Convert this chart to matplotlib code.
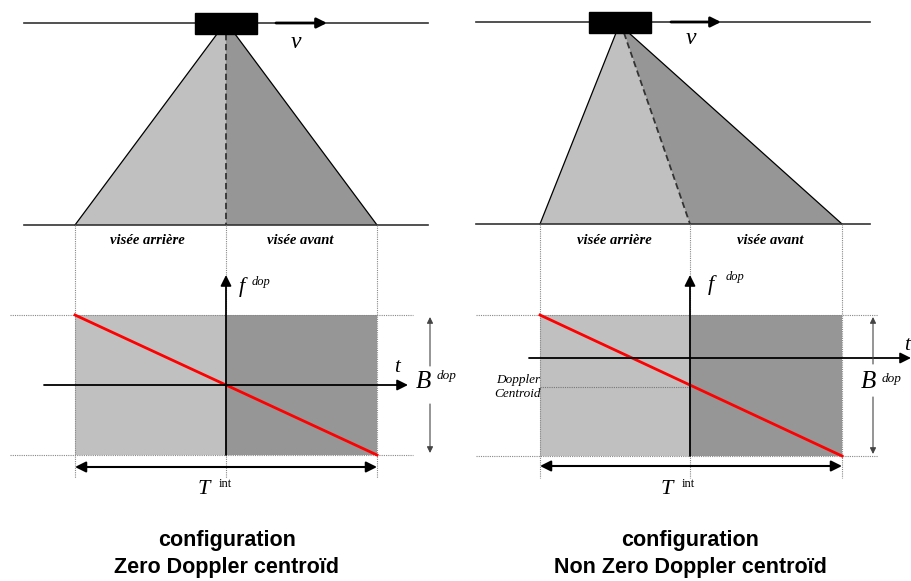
import matplotlib
matplotlib.use("Agg")
import matplotlib.pyplot as plt
from matplotlib.patches import Polygon, Rectangle, FancyArrowPatch

# ---------------- data (pixel geometry of the diagram) ----------------
panel_titles = ["configuration\nZero Doppler centroïd",
                "configuration\nNon Zero Doppler centroïd"]
zone_labels = ["visée arrière", "visée avant"]
doppler_label = "Doppler\nCentroid"

# satellite track (y), ground line (y), x extent
track_y = [23, 22]
ground_y = [225, 224]
line_x = [[24, 428], [476, 870]]
# satellite box [x0, y0, x1, y1]
sat_box = [[195, 13, 257, 34], [589, 12, 651, 33]]
# velocity arrow [x0, x1]
vel_arrow = [[276, 327], [671, 721]]
# beam footprint: apex left/right x, split x on apex, ground left, split, right
beam_apex_l = [217, 616]
beam_apex_r = [235, 629]
beam_apex_split = [226, 624]
beam_ground = [[75, 226, 377], [540, 690, 842]]
# Doppler diagram rect y (top, bottom)
rect_y = [[315, 455], [315, 456]]
# time axis y, x extent
t_axis_y = [385, 358]
t_axis_x = [[44, 408], [529, 911]]
# frequency axis top
f_axis_top = [275, 275]
# Doppler centroid (y where red line crosses f axis)
centroid_y = [385, 387]
# bandwidth arrow x
b_arrow_x = [430, 873]
b_gap = [[366, 404], [364, 397]]
# integration time arrow y
t_int_y = [467, 466]
# dotted horizontal extents
hdot_x = [[10, 413], [476, 878]]

light = "#c0c0c0"
dark = "#969696"
serif = "Liberation Serif"
sans = "Liberation Sans"

fig = plt.figure(figsize=(9.12, 5.81), dpi=100)
ax = fig.add_axes([0, 0, 1, 1])
ax.set_xlim(0, 912)
ax.set_ylim(581, 0)
ax.axis("off")


def arrow(p0, p1, style="-|>", color="black", lw=1.3, ms=16, z=5):
    a = FancyArrowPatch(p0, p1, arrowstyle=style, color=color, lw=lw,
                        mutation_scale=ms, shrinkA=0, shrinkB=0, zorder=z)
    ax.add_patch(a)


for i in range(2):
    xl, xs, xr = beam_ground[i]
    gy = ground_y[i]
    ay = sat_box[i][3]
    # beam polygons
    ax.add_patch(Polygon([(beam_apex_l[i], ay), (beam_apex_split[i], ay), (xs, gy), (xl, gy)],
                         closed=True, facecolor=light, edgecolor="none", zorder=1))
    ax.add_patch(Polygon([(beam_apex_split[i], ay), (beam_apex_r[i], ay), (xr, gy), (xs, gy)],
                         closed=True, facecolor=dark, edgecolor="none", zorder=1))
    ax.plot([beam_apex_l[i], xl], [ay, gy], color="black", lw=0.9, zorder=2)
    ax.plot([beam_apex_r[i], xr], [ay, gy], color="black", lw=0.9, zorder=2)
    ax.plot([beam_apex_split[i], xs], [ay, gy], color="#333333", lw=1.3,
            ls=(0, (3.5, 2)), zorder=2)
    # track and ground lines
    ax.plot(line_x[i], [track_y[i]] * 2, color="#333333", lw=1.2, zorder=2)
    ax.plot(line_x[i], [gy] * 2, color="#333333", lw=1.2, zorder=2)
    # satellite
    bx0, by0, bx1, by1 = sat_box[i]
    ax.add_patch(Rectangle((bx0, by0), bx1 - bx0, by1 - by0, facecolor="black",
                           edgecolor="black", zorder=3))
    # velocity arrow
    arrow((vel_arrow[i][0], track_y[i]), (vel_arrow[i][1], track_y[i]), lw=2.0, ms=15)
    ax.text((vel_arrow[i][0] + vel_arrow[i][1]) / 2 - 6 + i * 1, 42 - i * 3, "v",
            family=serif, style="italic", fontsize=17, ha="center", va="center")

    # vertical dotted guides
    for x in (xl, xs, xr):
        ax.plot([x, x], [gy, 478], color="#888888", lw=0.8, ls=(0, (1, 1)), zorder=2)
    # zone labels
    ax.text((xl + xs) / 2 - 3 + i * 2, 241, zone_labels[0], family=serif, style="italic",
            weight="bold", fontsize=10.5, ha="center", va="center")
    ax.text((xs + xr) / 2 - 1 + i * 5, 240, zone_labels[1], family=serif, style="italic",
            weight="bold", fontsize=10.5, ha="center", va="center")

    # Doppler rectangle
    ry0, ry1 = rect_y[i]
    ax.add_patch(Rectangle((xl, ry0), xs - xl, ry1 - ry0, facecolor=light,
                           edgecolor="none", zorder=1))
    ax.add_patch(Rectangle((xs, ry0), xr - xs, ry1 - ry0, facecolor=dark,
                           edgecolor="none", zorder=1))
    for y in (ry0, ry1):
        ax.plot(hdot_x[i], [y, y], color="#888888", lw=0.8, ls=(0, (1, 1)), zorder=2)

    # red Doppler history line
    ax.plot([xl, xr], [ry0, ry1], color="#ff0000", lw=2.0, zorder=4)

    # f axis
    arrow((xs, ry1), (xs, f_axis_top[i]), lw=1.3, ms=16)
    # t axis
    arrow((t_axis_x[i][0], t_axis_y[i]), (t_axis_x[i][1], t_axis_y[i]), lw=1.3, ms=16)

    # bandwidth arrow (two halves)
    bx = b_arrow_x[i]
    arrow((bx, b_gap[i][0]), (bx, ry0 + 2), color="#444444", lw=0.8, ms=9)
    arrow((bx, b_gap[i][1]), (bx, ry1 - 2), color="#444444", lw=0.8, ms=9)

    # integration time arrow
    arrow((xl, t_int_y[i]), (xr, t_int_y[i]), style="<|-|>", lw=1.5, ms=16)

# Doppler centroid marker (right panel)
ax.plot([beam_ground[1][0], beam_ground[1][1]], [centroid_y[1]] * 2,
        color="#777777", lw=0.8, ls=(0, (1, 1)), zorder=2)
ax.text(518, 387, doppler_label, family=serif, style="italic", fontsize=9.5,
        ha="center", va="center", linespacing=1.25, zorder=6)

# axis labels
for (fx, fy, dx, dy) in [(242, 287, 261, 282), (711, 285, 735, 277)]:
    ax.text(fx, fy, "f", family=serif, style="italic", fontsize=16, ha="center", va="center")
    ax.text(dx, dy, "dop", family=serif, style="italic", fontsize=9, ha="center", va="center")
for (tx, ty) in [(397, 367), (907, 345)]:
    ax.text(tx, ty, "t", family=serif, style="italic", fontsize=15, ha="center", va="center")
for (bx, by, dx, dy) in [(423, 382, 447, 376), (868, 382, 892, 379)]:
    ax.text(bx, by, "B", family=serif, style="italic", fontsize=18, ha="center", va="center")
    ax.text(dx, dy, "dop", family=serif, style="italic", fontsize=9.5, ha="center", va="center")
for (tx, ty, ix, iy) in [(204, 490, 225, 484), (667, 490, 688, 484)]:
    ax.text(tx, ty, "T", family=serif, style="italic", fontsize=16, ha="center", va="center")
    ax.text(ix, iy, "int", family=serif, fontsize=9, ha="center", va="center")

# titles
for cx, title in zip([227, 690], panel_titles):
    ax.text(cx, 554, title, family=sans, weight="bold", fontsize=15.5, ha="center",
            va="center", linespacing=1.35)

fig.savefig("out.png", dpi=100)
